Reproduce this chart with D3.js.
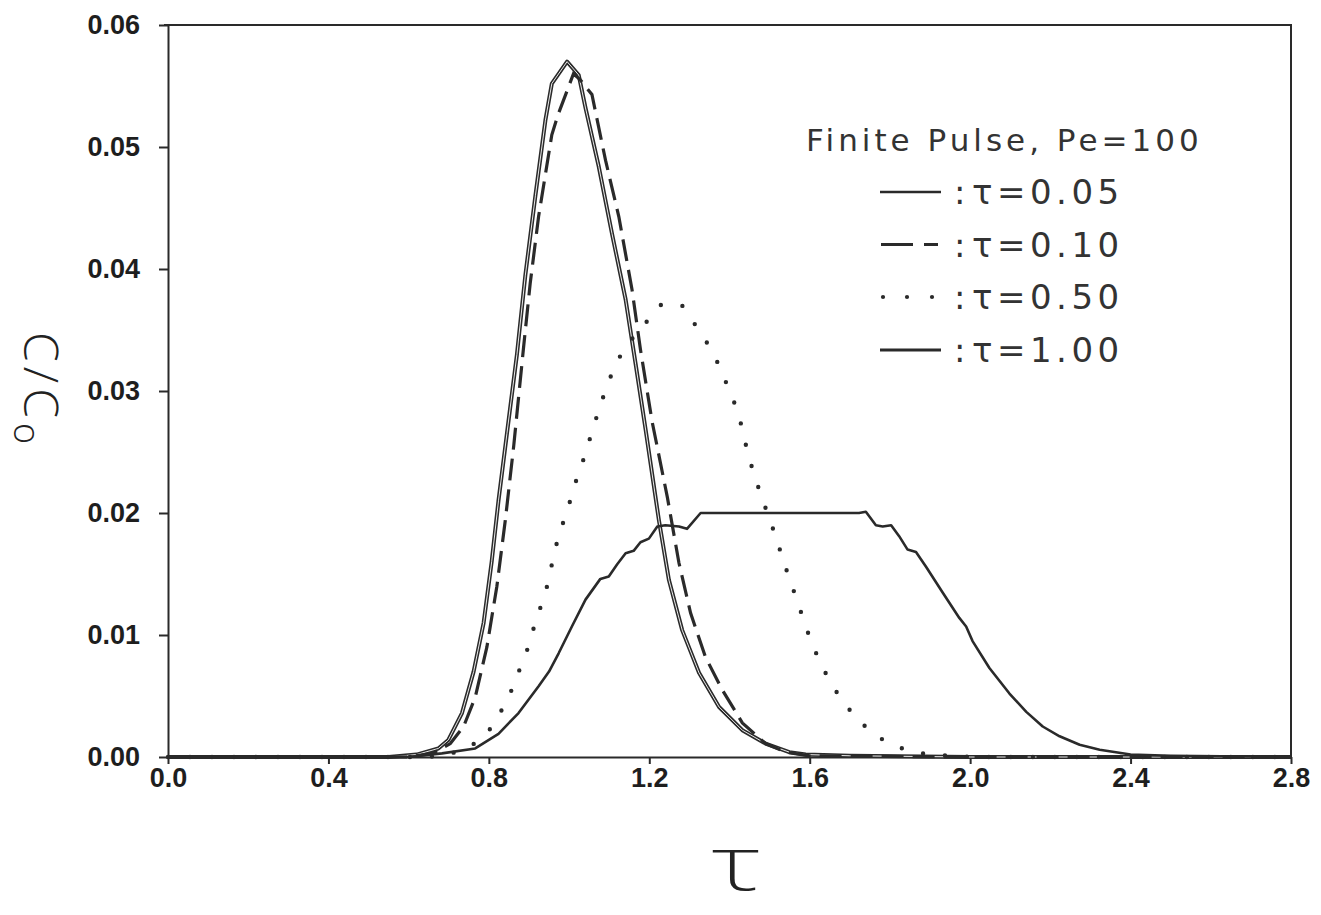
<!DOCTYPE html>
<html>
<head>
<meta charset="utf-8">
<script src="https://cdn.jsdelivr.net/npm/d3@7"></script>
<style>
  html, body { margin: 0; padding: 0; background: #fff; }
  svg { display: block; }
</style>
</head>
<body>
<svg id="chart" width="1321" height="915"></svg>
<script>
// Dimensionless time T (pore volumes)
const tA = [0, 0.55, 0.62, 0.674, 0.699, 0.733, 0.762, 0.787, 0.807, 0.824, 0.845, 0.870, 0.891, 0.916, 0.941, 0.957, 0.995, 1.024, 1.041, 1.074, 1.107, 1.141, 1.166, 1.191, 1.224, 1.249, 1.282, 1.324, 1.374, 1.432, 1.49, 1.549, 1.59, 1.7, 2.0, 2.8];
const cA = [0, 0, 0.0002, 0.0007, 0.0014, 0.0036, 0.0070, 0.0110, 0.0160, 0.0210, 0.0265, 0.0330, 0.0395, 0.0460, 0.0522, 0.0552, 0.0570, 0.0559, 0.0532, 0.0484, 0.0429, 0.0375, 0.0322, 0.0268, 0.0194, 0.0145, 0.0104, 0.0069, 0.0041, 0.0022, 0.0011, 0.0004, 0.0002, 0.0001, 0, 0];

const tB = [0, 0.6, 0.66, 0.704, 0.737, 0.766, 0.795, 0.820, 0.841, 0.862, 0.886, 0.903, 0.924, 0.957, 0.972, 1.011, 1.028, 1.057, 1.091, 1.124, 1.157, 1.178, 1.207, 1.245, 1.274, 1.303, 1.34, 1.382, 1.432, 1.49, 1.54, 1.6, 2.0, 2.8];
const cB = [0, 0, 0.0003, 0.0011, 0.0025, 0.0049, 0.0090, 0.0140, 0.0194, 0.0255, 0.0334, 0.0388, 0.0443, 0.0510, 0.0526, 0.0560, 0.0555, 0.0543, 0.0489, 0.0443, 0.0383, 0.0334, 0.0275, 0.0213, 0.0159, 0.0118, 0.0082, 0.0055, 0.0028, 0.0011, 0.0004, 0.0001, 0, 0];

const tC = [0, 0.65, 0.72, 0.77, 0.806, 0.833, 0.857, 0.877, 0.897, 0.913, 0.931, 0.947, 0.959, 0.972, 0.989, 1.0, 1.016, 1.034, 1.051, 1.068, 1.085, 1.104, 1.128, 1.16, 1.194, 1.23, 1.282, 1.313, 1.343, 1.368, 1.394, 1.42, 1.434, 1.446, 1.463, 1.48, 1.5, 1.518, 1.535, 1.554, 1.572, 1.59, 1.607, 1.628, 1.654, 1.683, 1.717, 1.754, 1.798, 1.856, 1.906, 2.0, 2.8];
const cC = [0, 0, 0.0004, 0.0012, 0.0024, 0.0039, 0.0055, 0.0072, 0.0089, 0.0107, 0.0125, 0.0142, 0.0161, 0.0179, 0.0196, 0.0207, 0.0225, 0.0242, 0.0260, 0.0278, 0.0295, 0.0312, 0.0329, 0.0344, 0.0357, 0.0371, 0.0370, 0.0355, 0.0340, 0.0325, 0.0305, 0.0284, 0.0266, 0.0248, 0.0230, 0.0213, 0.0195, 0.0178, 0.0160, 0.0142, 0.0125, 0.0107, 0.0092, 0.0076, 0.0060, 0.0045, 0.0032, 0.0020, 0.0011, 0.0004, 0.0002, 0, 0];

const tD = [0, 0.6, 0.683, 0.766, 0.824, 0.874, 0.924, 0.95, 0.974, 1.007, 1.041, 1.078, 1.099, 1.12, 1.141, 1.161, 1.178, 1.199, 1.22, 1.24, 1.274, 1.294, 1.328, 1.357, 1.723, 1.74, 1.765, 1.782, 1.803, 1.823, 1.844, 1.865, 1.89, 1.931, 1.973, 1.99, 2.006, 2.048, 2.098, 2.14, 2.181, 2.223, 2.273, 2.323, 2.4, 2.5, 2.8];
const cD = [0, 0, 0.0003, 0.0007, 0.0019, 0.0036, 0.0058, 0.0070, 0.0085, 0.0107, 0.0129, 0.0146, 0.0148, 0.0158, 0.0167, 0.0169, 0.0176, 0.0179, 0.0189, 0.0190, 0.0189, 0.0187, 0.0200, 0.0200, 0.0200, 0.0201, 0.0190, 0.0189, 0.0190, 0.0181, 0.0170, 0.0168, 0.0156, 0.0135, 0.0114, 0.0107, 0.0095, 0.0073, 0.0052, 0.0037, 0.0025, 0.0017, 0.0010, 0.0006, 0.0002, 0.0001, 0];

const xTicks = [0, 0.4, 0.8, 1.2, 1.6, 2.0, 2.4, 2.8];
const yTicks = [0, 0.01, 0.02, 0.03, 0.04, 0.05, 0.06];
const legendTitle = "Finite Pulse, Pe=100";
const legendLabels = ["τ=0.05", "τ=0.10", "τ=0.50", "τ=1.00"];

const series = [
  { t: tA, c: cA, kind: "double" },
  { t: tB, c: cB, kind: "dash" },
  { t: tC, c: cC, kind: "dot" },
  { t: tD, c: cD, kind: "solid" }
];

const ink = "#2a2a2a";
const svg = d3.select("#chart");

const x = d3.scaleLinear().domain([0, 2.8]).range([168, 1291]);
const y = d3.scaleLinear().domain([0, 0.06]).range([757, 25]);

// frame: top and right edges
svg.append("path")
  .attr("d", `M${x(0) - 4},${y(0.06)}H${x(2.8)}V${y(0)}`)
  .attr("fill", "none").attr("stroke", ink).attr("stroke-width", 2);

// axes
const gx = svg.append("g").attr("transform", `translate(0,${y(0)})`)
  .call(d3.axisBottom(x).tickValues(xTicks).tickFormat(d3.format(".1f"))
    .tickSizeInner(7).tickSizeOuter(0).tickPadding(4));
const gy = svg.append("g").attr("transform", `translate(${x(0)},0)`)
  .call(d3.axisLeft(y).tickValues(yTicks).tickFormat(d3.format(".2f"))
    .tickSizeInner(9).tickSizeOuter(0).tickPadding(19));

[gx, gy].forEach(g => {
  g.select(".domain").attr("stroke", ink).attr("stroke-width", 2);
  g.selectAll(".tick line").attr("stroke", ink).attr("stroke-width", 2);
  g.selectAll(".tick text")
    .attr("fill", "#1e1e1e")
    .style("font-family", "'Liberation Sans', Arial, sans-serif")
    .style("font-weight", "bold")
    .style("font-size", "27px");
});

// curves
const line = d3.line().x(d => x(d[0])).y(d => y(d[1])).curve(d3.curveLinear);
const pts = s => s.t.map((t, i) => [t, s.c[i]]);

series.forEach(s => {
  const d = line(pts(s));
  if (s.kind === "double") {
    svg.append("path").attr("d", d).attr("fill", "none")
      .attr("stroke", ink).attr("stroke-width", 4).attr("stroke-linejoin", "round");
    svg.append("path").attr("d", d).attr("fill", "none")
      .attr("stroke", "#fff").attr("stroke-width", 0.9).attr("stroke-linejoin", "round");
  } else if (s.kind === "dash") {
    svg.append("path").attr("d", d).attr("fill", "none")
      .attr("stroke", ink).attr("stroke-width", 3.2).attr("stroke-dasharray", "22 9");
  } else if (s.kind === "dot") {
    svg.append("path").attr("d", d).attr("fill", "none")
      .attr("stroke", ink).attr("stroke-width", 4.4).attr("stroke-linecap", "round")
      .attr("stroke-dasharray", "0 22");
  } else {
    svg.append("path").attr("d", d).attr("fill", "none")
      .attr("stroke", ink).attr("stroke-width", 2.6).attr("stroke-linejoin", "round");
  }
});

// legend
const legendFont = "'DejaVu Sans', Verdana, sans-serif";
const lg = svg.append("g");
lg.append("text").attr("x", 806).attr("y", 151)
  .attr("fill", "#333").style("font-family", legendFont)
  .style("font-size", "31px").style("letter-spacing", "4px")
  .text(legendTitle);

const rowY = [204, 256.5, 309, 362];
legendLabels.forEach((lab, i) => {
  const by = rowY[i];
  const ly = by - 12;
  const kind = series[i].kind;
  if (kind === "dash") {
    lg.append("line").attr("x1", 881).attr("x2", 913).attr("y1", ly).attr("y2", ly)
      .attr("stroke", ink).attr("stroke-width", 3);
    lg.append("line").attr("x1", 924).attr("x2", 938).attr("y1", ly).attr("y2", ly)
      .attr("stroke", ink).attr("stroke-width", 3);
  } else if (kind === "dot") {
    [883, 907, 932].forEach(cx => lg.append("circle").attr("cx", cx).attr("cy", ly)
      .attr("r", 2.1).attr("fill", ink));
  } else {
    lg.append("line").attr("x1", 880).attr("x2", 941).attr("y1", ly).attr("y2", ly)
      .attr("stroke", ink).attr("stroke-width", kind === "solid" ? 3.2 : 2.4);
  }
  lg.append("text").attr("x", 954).attr("y", by)
    .attr("fill", "#333").style("font-family", legendFont).style("font-size", "34px")
    .text(":");
  lg.append("text").attr("x", 972).attr("y", by)
    .attr("fill", "#333").style("font-family", legendFont).style("font-size", "34px")
    .style("letter-spacing", "4.5px")
    .text(lab);
});

// axis titles
svg.append("text")
  .attr("transform", "translate(737,890) scale(1.55,1)")
  .attr("text-anchor", "middle")
  .attr("fill", "#222")
  .style("font-family", "'Noto Sans', Lato, 'DejaVu Sans', sans-serif")
  .style("font-weight", "200")
  .style("font-size", "76px")
  .text("τ");

const yt = svg.append("text")
  .attr("transform", "translate(24,332) rotate(90)")
  .attr("fill", "#222")
  .style("font-family", "'Open Sans', 'DejaVu Sans', sans-serif")
  .style("font-weight", "300")
  .style("font-size", "48px")
  .style("letter-spacing", "5px");
yt.append("tspan").text("C/C");
yt.append("tspan").attr("dy", 10).style("font-size", "36px").text("o");
</script>
</body>
</html>
